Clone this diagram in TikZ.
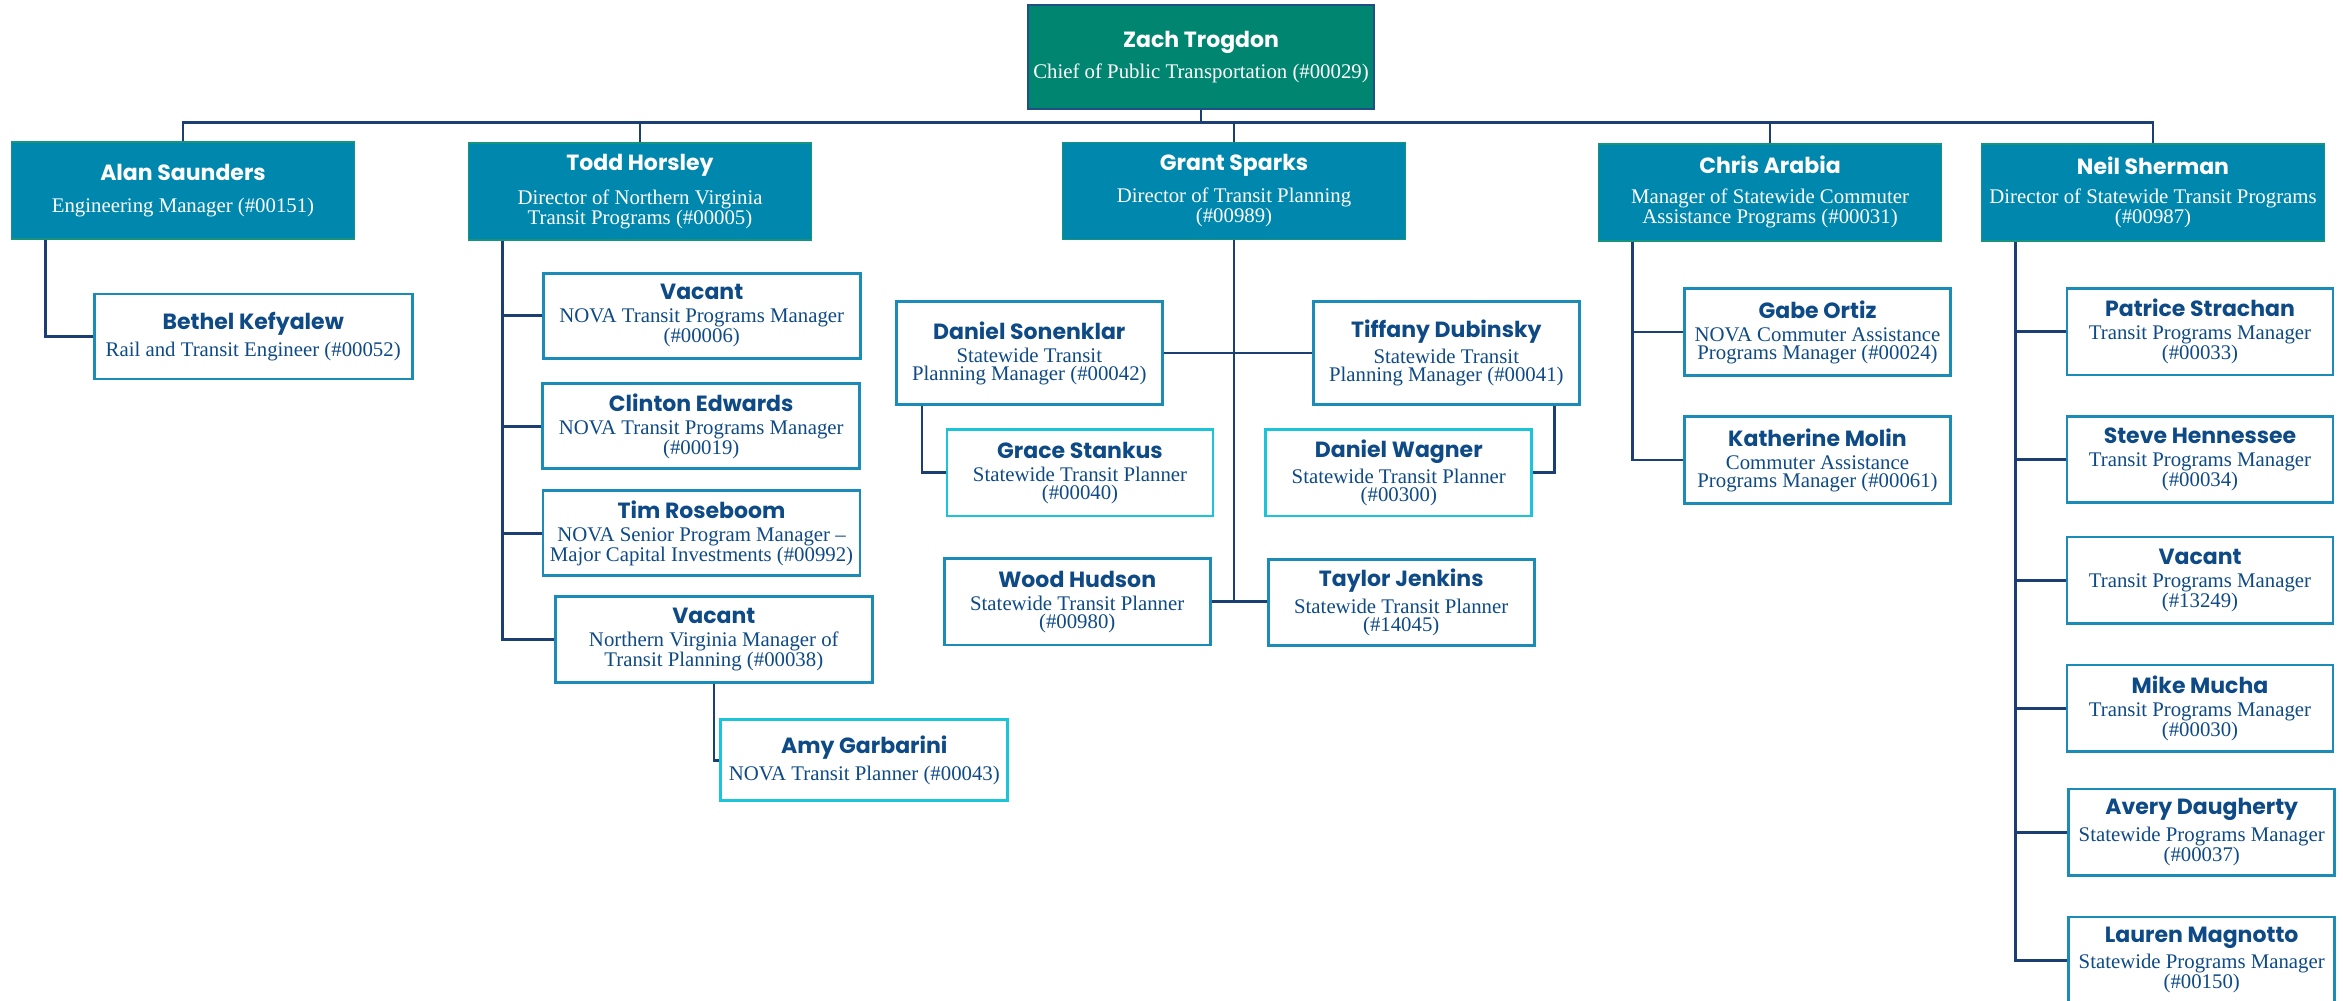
\documentclass[tikz,border=0pt]{standalone}
\usepackage{fontspec}
\setmainfont{Liberation Serif}
\newfontfamily\namefont{Poppins}
\definecolor{navy}{HTML}{1B3F73}
\definecolor{zachfill}{HTML}{008571}
\definecolor{zachborder}{HTML}{1F4F85}
\definecolor{leadfill}{HTML}{0087AD}
\definecolor{leadborder}{HTML}{17947E}
\definecolor{childborder}{HTML}{1A8CB7}
\definecolor{cyanborder}{HTML}{1AC4DA}
\definecolor{textnavy}{HTML}{0E4A86}
\newcommand\pn[1]{{\namefont\bfseries\fontsize{22}{22}\selectfont #1}}
\tikzset{
  box/.style={rectangle, inner sep=0pt, align=center, font=\rmfamily\fontsize{20.8}{18}\selectfont},
  zachbox/.style={box, fill=zachfill, draw=zachborder, line width=2.5pt, text=white, minimum width=346pt, minimum height=104pt},
  lead/.style={box, fill=leadfill, draw=leadborder, line width=1.6pt, text=white, minimum width=343pt, minimum height=97pt},
  child/.style={box, fill=white, draw=childborder, line width=2.8pt, text=textnavy, minimum width=266pt, minimum height=86.5pt},
  cchild/.style={child, draw=cyanborder},
  link/.style={draw=navy, line width=2.6pt},
}
\begin{document}
\begin{tikzpicture}[x=1pt, y=-1pt]
\fill[white] (0,0) rectangle (2343,1001);
\useasboundingbox (0,0) rectangle (2343,1001);

% top
\node[zachbox] (zach) at (1201,57) {\pn{Zach Trogdon}\\[9pt]Chief of Public Transportation (\#00029)};

% leaders
\node[lead] (alan) at (183,190.5) {\pn{Alan Saunders}\\[14.5pt]Engineering Manager (\#00151)};
\node[lead] (todd) at (640,191.7) {\pn{Todd Horsley}\\[12pt]Director of Northern Virginia\\Transit Programs (\#00005)};
\node[lead] (grant) at (1234,190.8) {\pn{Grant Sparks}\\[10.5pt]Director of Transit Planning\\(\#00989)};
\node[lead] (chris) at (1770,192.3) {\pn{Chris Arabia}\\[12pt]Manager of Statewide Commuter\\Assistance Programs (\#00031)};
\node[lead] (neil) at (2153,192.3) {\pn{Neil Sherman}\\[10.5pt]Director of Statewide Transit Programs\\(\#00987)};

% Alan's team
\node[child, minimum width=318pt, minimum height=85pt] (bethel) at (253.2,336.5) {\pn{Bethel Kefyalew}\\[5pt]Rail and Transit Engineer (\#00052)};

% Todd's team
\node[child, minimum width=317pt, minimum height=85pt] (vac1) at (701.7,315.7) {\pn{Vacant}\\[5pt]NOVA Transit Programs Manager\\(\#00006)};
\node[child, minimum width=317pt, minimum height=85pt] (clinton) at (701.2,426.3) {\pn{Clinton Edwards}\\[5pt]NOVA Transit Programs Manager\\(\#00019)};
\node[child, minimum width=317pt, minimum height=85pt] (tim) at (701.5,533.3) {\pn{Tim Roseboom}\\[5pt]NOVA Senior Program Manager --\\Major Capital Investments (\#00992)};
\node[child, minimum width=317pt, minimum height=86pt] (vac2) at (713.8,639.2) {\pn{Vacant}\\[5pt]Northern Virginia Manager of\\Transit Planning (\#00038)};
\node[cchild, minimum width=287pt, minimum height=81pt] (amy) at (864.3,760.3) {\pn{Amy Garbarini}\\[5pt]NOVA Transit Planner (\#00043)};

% Grant's team
\node[child, minimum height=102.6pt] (sonen) at (1029.3,353) {\pn{Daniel Sonenklar}\\[5pt]Statewide Transit\\Planning Manager (\#00042)};
\node[child, minimum height=102.6pt] (tiff) at (1446.3,353) {\pn{Tiffany Dubinsky}\\[5pt]Statewide Transit\\Planning Manager (\#00041)};
\node[cchild] (grace) at (1080,472.7) {\pn{Grace Stankus}\\[5pt]Statewide Transit Planner\\(\#00040)};
\node[cchild] (wagner) at (1398.8,472.7) {\pn{Daniel Wagner}\\[5pt]Statewide Transit Planner\\(\#00300)};
\node[child] (wood) at (1077.2,601.7) {\pn{Wood Hudson}\\[5pt]Statewide Transit Planner\\(\#00980)};
\node[child] (taylor) at (1401.2,602.5) {\pn{Taylor Jenkins}\\[5pt]Statewide Transit Planner\\(\#14045)};

% Chris's team
\node[child] (gabe) at (1817.5,332) {\pn{Gabe Ortiz}\\[5pt]NOVA Commuter Assistance\\Programs Manager (\#00024)};
\node[child] (kath) at (1817.5,460) {\pn{Katherine Molin}\\[5pt]Commuter Assistance\\Programs Manager (\#00061)};

% Neil's team
\node[child] (patrice) at (2200,331.7) {\pn{Patrice Strachan}\\[5pt]Transit Programs Manager\\(\#00033)};
\node[child] (steve) at (2200,459.5) {\pn{Steve Hennessee}\\[5pt]Transit Programs Manager\\(\#00034)};
\node[child] (vac3) at (2200,580.3) {\pn{Vacant}\\[5pt]Transit Programs Manager\\(\#13249)};
\node[child] (mike) at (2200,708.2) {\pn{Mike Mucha}\\[5pt]Transit Programs Manager\\(\#00030)};
\node[child] (avery) at (2201.7,832.2) {\pn{Avery Daugherty}\\[5pt]Statewide Programs Manager\\(\#00037)};
\node[child] (lauren) at (2201.7,960.2) {\pn{Lauren Magnotto}\\[5pt]Statewide Programs Manager\\(\#00150)};

% connectors
\coordinate (bus) at (0,122.5);
\draw[link] (zach.south) -- (zach.south |- bus);
\draw[link] (alan.north) -- (alan.north |- bus) -- (neil.north |- bus) -- (neil.north);
\foreach \n in {todd,grant,chris} \draw[link] (\n.north) -- (\n.north |- bus);

\coordinate (alanv) at ([xshift=35pt]alan.south west);
\draw[link] (alanv) |- (bethel.west);

\coordinate (toddv) at ([xshift=35pt]todd.south west);
\draw[link] (toddv) |- (vac2.west);
\foreach \n in {vac1,clinton,tim} \draw[link] (toddv |- \n.west) -- (\n.west);
\draw[link] (vac2.south) |- (amy.west);

\draw[link] (grant.south) -- (grant.south |- wood.east);
\draw[link] (sonen.east) -- (tiff.west);
\draw[link] (wood.east) -- (wood.east -| taylor.west);
\coordinate (sonenv) at ([xshift=27pt]sonen.south west);
\draw[link] (sonenv) |- (grace.west);
\coordinate (tiffv) at ([xshift=-26pt]tiff.south east);
\draw[link] (tiffv) |- (wagner.east);

\coordinate (chrisv) at ([xshift=35pt]chris.south west);
\draw[link] (chrisv) |- (kath.west);
\draw[link] (chrisv |- gabe.west) -- (gabe.west);

\coordinate (neilv) at ([xshift=35pt]neil.south west);
\draw[link] (neilv) |- (lauren.west);
\foreach \n in {patrice,steve,vac3,mike,avery} \draw[link] (neilv |- \n.west) -- (\n.west);
\end{tikzpicture}
\end{document}
